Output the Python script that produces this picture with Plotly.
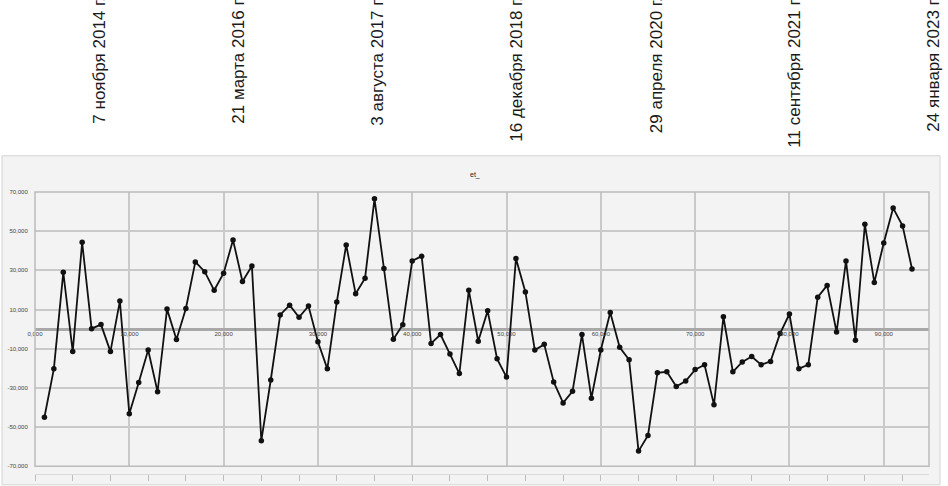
import plotly.graph_objects as go
from datetime import date

# ---- data ----
obs = list(range(1, 94))
et_values = [
    -45000, -20300, 29000, -11500, 44300, 200, 2300, -11500, 14300, -43200,
    -27300, -10700, -32000, 10200, -5300, 10500, 34300, 29300, 19800, 28500,
    45500, 24300, 32200, -57000, -26000, 7200, 12200, 6000, 11800, -6500,
    -20300, 13800, 43000, 18000, 26000, 66500, 31000, -5200, 2200, 34800,
    37200, -7300, -2800, -12700, -22700, 19800, -6200, 9300, -15200, -24500,
    36000, 19000, -10700, -7800, -27000, -37700, -31800, -2800, -35300, -10700,
    8500, -9300, -15700, -62300, -54300, -22300, -21800, -29300, -26500, -20700,
    -18200, -38700, 6300, -21800, -16800, -14000, -18200, -16500, -2300, 7700,
    -20200, -18200, 16300, 22300, -1500, 34800, -5700, 53500, 23800, 44000,
    61800, 52700, 30700,
]
y_tickvals = [70000, 50000, 30000, 10000, -10000, -30000, -50000, -70000]
y_ticktext = ["70,000", "50,000", "30,000", "10,000", "-10,000", "-30,000", "-50,000", "-70,000"]
x_tickvals = [0, 10, 20, 30, 40, 50, 60, 70, 80, 90]
x_ticktext = ["0,000", "10,000", "20,000", "30,000", "40,000", "50,000", "60,000", "70,000", "80,000", "90,000"]
date_ticks = [date(2014, 11, 7), date(2016, 3, 21), date(2017, 8, 3), date(2018, 12, 16),
              date(2020, 4, 29), date(2021, 9, 11), date(2023, 1, 24)]
date_labels = ["7 ноября 2014 г.", "21 марта 2016 г.", "3 августа 2017 г.", "16 декабря 2018 г.",
               "29 апреля 2020 г.", "11 сентября 2021 г.", "24 января 2023 г."]
title_text = "et_"

# ---- layout geometry (pixels) ----
W, H = 948, 486
ML, MR, MT, MB = 35, 19, 192, 6
PW, PH = W - ML - MR, H - MT - MB
PLOT_BOTTOM = 472


def px_x(p):
    return (p - ML) / PW


def px_y(p):
    return (H - MB - p) / PH


X_RANGE = [0, 94.8]
FONT = "Liberation Sans, Arial, sans-serif"

fig = go.Figure()
fig.add_trace(go.Scatter(
    x=obs, y=et_values, mode="lines+markers",
    line=dict(color="#111111", width=1.8),
    marker=dict(color="#111111", size=5.5),
    xaxis="x", yaxis="y", showlegend=False, hoverinfo="skip",
))
fig.add_trace(go.Scatter(
    x=obs, y=et_values, mode="lines", opacity=0,
    xaxis="x2", yaxis="y", showlegend=False, hoverinfo="skip",
))

ydom0 = px_y(PLOT_BOTTOM)

shapes = [
    # panel background
    dict(type="rect", xref="paper", yref="paper", x0=px_x(2), x1=px_x(940),
         y0=px_y(H + 5), y1=px_y(155), fillcolor="#f3f3f3",
         line=dict(color="#d4d4d4", width=1), layer="below"),
    # plot frame
    dict(type="rect", xref="x domain", yref="y domain", x0=0, x1=1, y0=0, y1=1,
         line=dict(color="#bcbcbc", width=1.5), fillcolor="rgba(0,0,0,0)", layer="above"),
]

annotations = [
    dict(text=title_text, xref="paper", yref="paper", x=px_x(475), y=px_y(168),
         showarrow=False, font=dict(family=FONT, size=7, color="#222222")),
]
d0 = date_ticks[0]
for d, lab in zip(date_ticks, date_labels):
    pxpos = 100 + (d - d0).days * 139.0 / 500
    annotations.append(dict(
        text=lab, xref="paper", yref="paper", x=px_x(pxpos), y=px_y(-9),
        xanchor="center", yanchor="top", textangle=-90, showarrow=False,
        font=dict(family=FONT, size=17, color="#1a1a1a"),
    ))

fig.update_layout(
    width=W, height=H,
    margin=dict(l=ML, r=MR, t=MT, b=MB),
    paper_bgcolor="white", plot_bgcolor="#f8f8f8",
    font=dict(family=FONT, color="#333333"),
    xaxis=dict(
        range=X_RANGE, anchor="free", position=px_y(332), side="bottom",
        tickvals=x_tickvals, ticktext=x_ticktext, ticks="",
        tickfont=dict(size=6, color="#444444"),
        showgrid=True, gridcolor="#c9c9c9", gridwidth=1.5,
        zeroline=False, showline=False,
    ),
    xaxis2=dict(
        range=X_RANGE, overlaying="x", anchor="free", position=0, side="bottom",
        dtick=4, tick0=0, ticks="outside", ticklen=6, tickcolor="#bdbdbd", tickwidth=1,
        showticklabels=False, showgrid=False, zeroline=False,
        showline=True, linecolor="#dadada", linewidth=1,
    ),
    yaxis=dict(
        range=[-70000, 70000], domain=[ydom0, 1],
        tickvals=y_tickvals, ticktext=y_ticktext, ticks="outside", ticklen=5,
        tickcolor="rgba(0,0,0,0)",
        tickfont=dict(size=6, color="#444444"),
        showgrid=True, gridcolor="#c9c9c9", gridwidth=2,
        zeroline=True, zerolinecolor="#a8a8a8", zerolinewidth=2.5,
        showline=False,
    ),
    shapes=shapes,
    annotations=annotations,
)

fig.write_html(
    "out.html",
    config={"displayModeBar": False},
    post_script="document.body.style.margin='0';document.body.style.overflow='hidden';",
)
